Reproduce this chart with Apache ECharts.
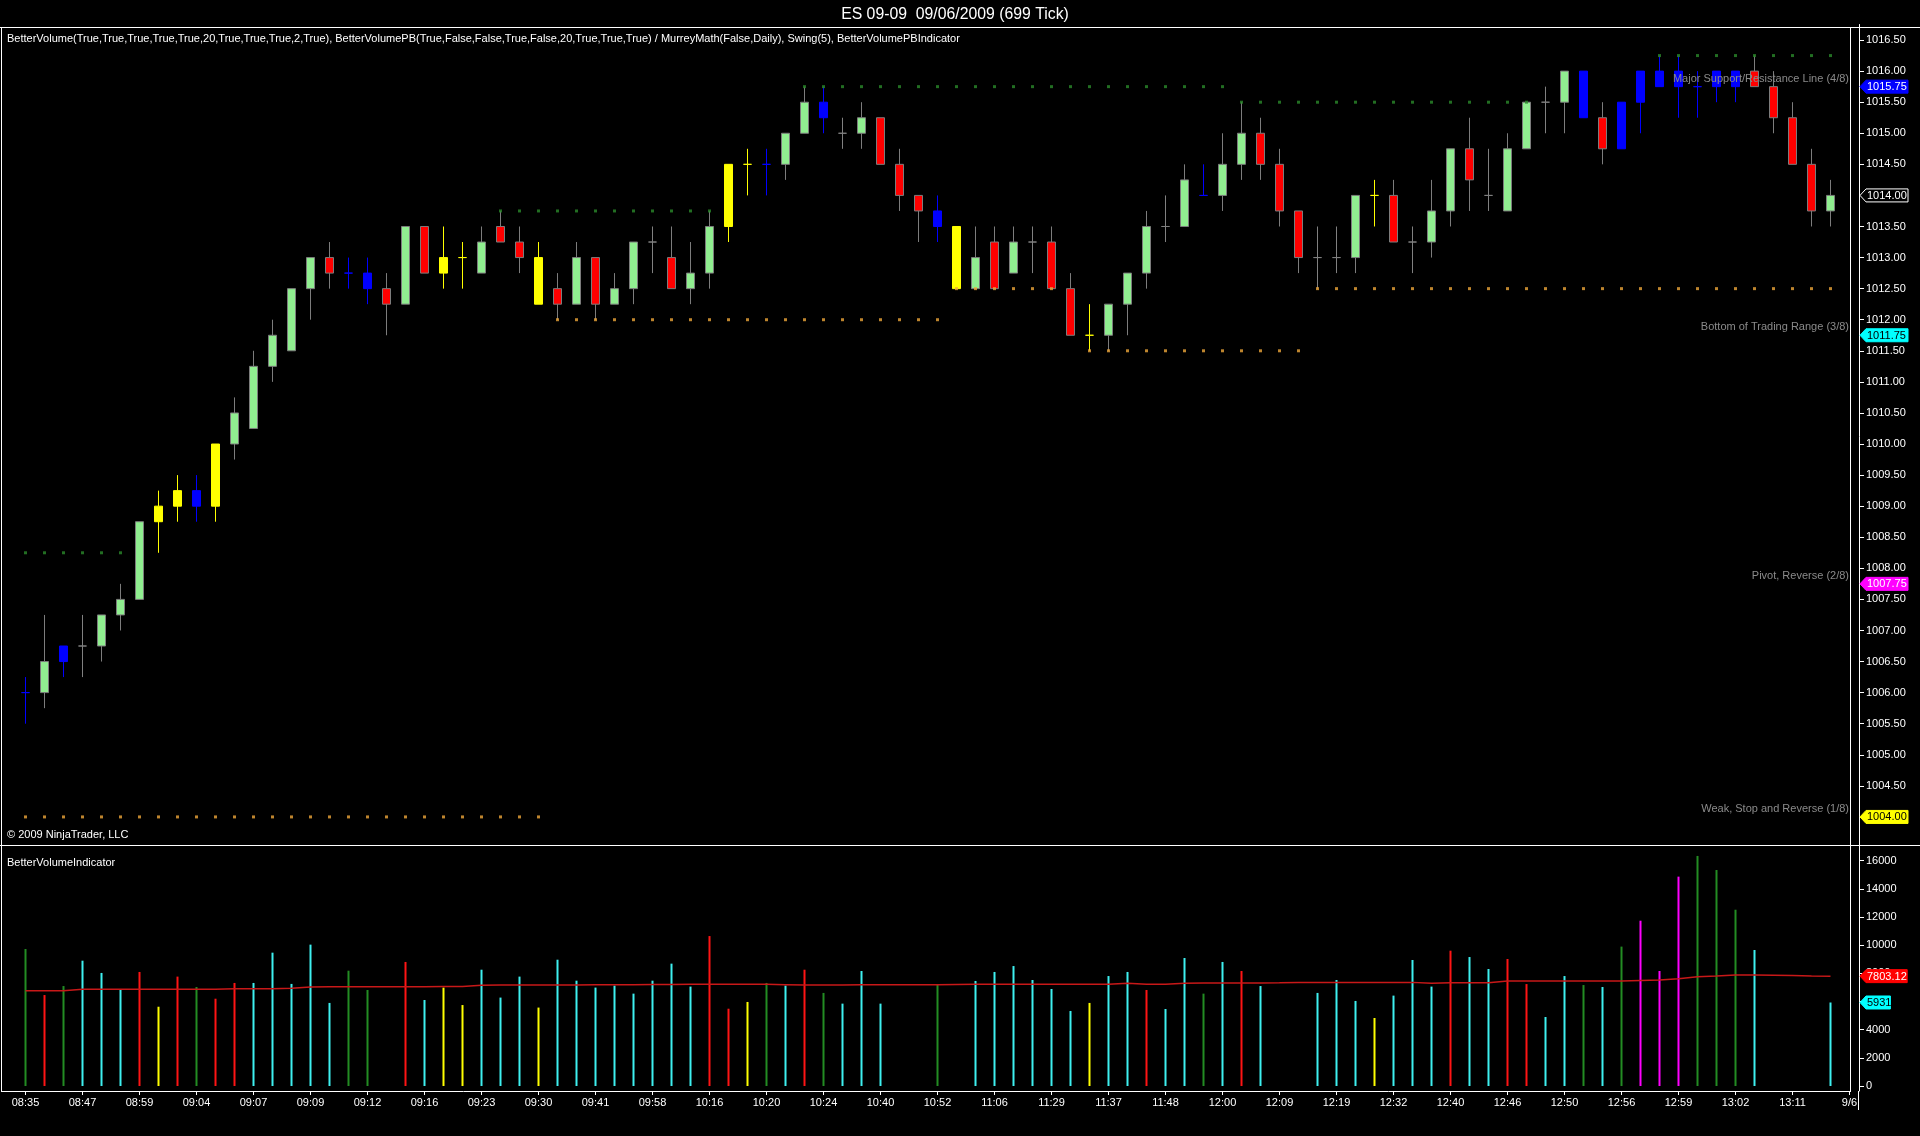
<!DOCTYPE html>
<html>
<head>
<meta charset="utf-8">
<style>
  html, body { margin: 0; padding: 0; background: #000; }
  #chart { width: 1920px; height: 1136px; }
</style>
<script src="https://cdn.jsdelivr.net/npm/echarts@6/dist/echarts.min.js"></script>
</head>
<body>
<div id="chart"></div>
<script>
// ---------------- DATA ----------------
const timeLabels = ['08:35','08:47','08:59','09:04','09:07','09:09','09:12','09:16','09:23','09:30','09:41','09:58',
  '10:16','10:20','10:24','10:40','10:52','11:06','11:29','11:37','11:48','12:00','12:09','12:19','12:32',
  '12:40','12:46','12:50','12:56','12:59','13:02','13:11','9/6'];

const opens = [
  1006.0, 1006.0, 1006.5, 1006.75, 1006.75, 1007.25, 1007.5, 1008.75, 1009.0, 1009.0,
  1009.0, 1010.0, 1010.25, 1011.25, 1011.5, 1012.5, 1013.0, 1012.75, 1012.75, 1012.5,
  1012.25, 1013.5, 1012.75, 1013.0, 1012.75, 1013.5, 1013.25, 1013.0, 1012.5, 1012.25,
  1013.0, 1012.25, 1012.5, 1013.25, 1013.0, 1012.5, 1012.75, 1013.5, 1014.5, 1014.5,
  1014.5, 1015.0, 1015.5, 1015.0, 1015.0, 1015.25, 1014.5, 1014.0, 1013.75, 1013.5,
  1012.5, 1013.25, 1012.75, 1013.25, 1013.25, 1012.5, 1011.75, 1011.75, 1012.25, 1012.75,
  1013.5, 1013.5, 1014.0, 1014.0, 1014.5, 1015.0, 1014.5, 1013.75, 1013.0, 1013.0,
  1013.0, 1014.0, 1014.0, 1013.25, 1013.25, 1013.75, 1014.75, 1014.0, 1013.75, 1014.75,
  1015.5, 1015.5, 1016.0, 1015.25, 1014.75, 1015.5, 1015.75, 1015.75, 1015.75, 1015.75,
  1015.75, 1016.0, 1015.75, 1015.25, 1014.5, 1013.75
];
const closes = [
  1006.0, 1006.5, 1006.75, 1006.75, 1007.25, 1007.5, 1008.75, 1009.0, 1009.25, 1009.25,
  1010.0, 1010.5, 1011.25, 1011.75, 1012.5, 1013.0, 1012.75, 1012.75, 1012.5, 1012.25,
  1013.5, 1012.75, 1013.0, 1013.0, 1013.25, 1013.25, 1013.0, 1012.25, 1012.25, 1013.0,
  1012.25, 1012.5, 1013.25, 1013.25, 1012.5, 1012.75, 1013.5, 1014.5, 1014.5, 1014.5,
  1015.0, 1015.5, 1015.25, 1015.0, 1015.25, 1014.5, 1014.0, 1013.75, 1013.5, 1012.5,
  1013.0, 1012.5, 1013.25, 1013.25, 1012.5, 1011.75, 1011.75, 1012.25, 1012.75, 1013.5,
  1013.5, 1014.25, 1014.0, 1014.5, 1015.0, 1014.5, 1013.75, 1013.0, 1013.0, 1013.0,
  1014.0, 1014.0, 1013.25, 1013.25, 1013.75, 1014.75, 1014.25, 1014.0, 1014.75, 1015.5,
  1015.5, 1016.0, 1015.25, 1014.75, 1015.5, 1016.0, 1016.0, 1016.0, 1015.75, 1016.0,
  1016.0, 1015.75, 1015.25, 1014.5, 1013.75, 1014.0
];
const lows = [
  1005.5, 1005.75, 1006.25, 1006.25, 1006.5, 1007.0, 1007.5, 1008.25, 1008.75, 1008.75,
  1008.75, 1009.75, 1010.25, 1011.0, 1011.5, 1012.0, 1012.5, 1012.5, 1012.25, 1011.75,
  1012.25, 1012.75, 1012.5, 1012.5, 1012.75, 1013.25, 1012.75, 1012.25, 1012.0, 1012.25,
  1012.0, 1012.25, 1012.25, 1012.75, 1012.5, 1012.25, 1012.5, 1013.25, 1014.0, 1014.0,
  1014.25, 1015.0, 1015.0, 1014.75, 1014.75, 1014.5, 1013.75, 1013.25, 1013.25, 1012.5,
  1012.5, 1012.5, 1012.75, 1012.75, 1012.5, 1011.75, 1011.5, 1011.5, 1011.75, 1012.5,
  1013.25, 1013.5, 1014.0, 1013.75, 1014.25, 1014.25, 1013.5, 1012.75, 1012.5, 1012.75,
  1012.75, 1013.5, 1013.25, 1012.75, 1013.0, 1013.5, 1013.75, 1013.75, 1013.75, 1014.75,
  1015.0, 1015.0, 1015.25, 1014.5, 1014.75, 1015.0, 1015.75, 1015.25, 1015.25, 1015.5,
  1015.5, 1015.75, 1015.0, 1014.5, 1013.5, 1013.5
];
const highs = [
  1006.25, 1007.25, 1006.75, 1007.25, 1007.25, 1007.75, 1008.75, 1009.25, 1009.5, 1009.5,
  1010.0, 1010.75, 1011.5, 1012.0, 1012.5, 1013.0, 1013.25, 1013.0, 1013.0, 1012.75,
  1013.5, 1013.5, 1013.5, 1013.25, 1013.5, 1013.75, 1013.5, 1013.25, 1012.75, 1013.25,
  1013.0, 1012.75, 1013.25, 1013.5, 1013.5, 1013.25, 1013.75, 1014.5, 1014.75, 1014.75,
  1015.0, 1015.75, 1015.75, 1015.25, 1015.5, 1015.25, 1014.75, 1014.0, 1014.0, 1013.5,
  1013.5, 1013.5, 1013.5, 1013.5, 1013.5, 1012.75, 1012.25, 1012.25, 1012.75, 1013.75,
  1014.0, 1014.5, 1014.5, 1015.0, 1015.5, 1015.25, 1014.75, 1013.75, 1013.5, 1013.5,
  1014.0, 1014.25, 1014.25, 1013.5, 1014.25, 1014.75, 1015.25, 1014.75, 1015.0, 1015.5,
  1015.75, 1016.0, 1016.0, 1015.5, 1015.5, 1016.0, 1016.25, 1016.25, 1016.0, 1016.0,
  1016.0, 1016.25, 1016.0, 1015.5, 1014.75, 1014.25
];
// candle colour class per bar: G up-green, R down-red, Y yellow, B blue, N neutral gray
const candleCodes = ('BGBNGGGYYB' + 'YGGGGGRBBR' + 'GRYYGRRYRG' + 'RGGNRGGYYB' + 'GGBNGRRRBY' +
                     'GRGNRRYGGG' + 'NGBGGRRRNN' + 'GYRNGGRNGG' + 'NGBRBBBBBB' + 'BRRRRG').split('');

const volumes = [
  9730, 6460, 7100, 8900, 8030, 6890, 8100, 5630, 7770, 7030,
  6200, 7320, 7320, 9470, 7250, 10040, 5900, 8190, 6820, null,
  8810, 6110, 6990, 5750, 8260, 6280, 7770, 5570, 8970, 7480,
  6990, 7130, 6560, 7480, 8690, 7060, 10650, 5490, 5970, 7320,
  7130, 8260, 6610, 5850, 8170, 5850, null, null, 7200, null,
  7460, 8100, 8520, 7530, 6890, 5330, 5900, 7810, 8100, 6820,
  5470, 9090, 6560, 8810, 8170, 7100, null, null, 6610, 7530,
  6040, 4830, 6420, 8950, 7060, 9610, 9160, 8310, 9020, 7240,
  4900, 7810, 7170, 7030, 9900, 11740, 8170, 14870, 16340, 15340,
  12520, 9660, null, null, null, 5931
];
// volume colour class: G green, R red, C cyan, Y yellow, M magenta, - not visible
const volumeCodes = ('GRGCCCRYRG' + 'RRCCCCCGG-' + 'RCYYCCCYCC' + 'CCCCCCRRYG' + 'CRGCCC--G-' +
                     'CCCCCCYCCR' + 'CCGCRC--CC' + 'CYCCCRCCRR' + 'CCGCGMMMGG' + 'GC---C').split('');
const volumeAverage = [
  6770, 6770, 6770, 6865, 6865, 6865, 6865, 6865, 6870, 6870,
  6880, 6900, 6900, 6910, 6940, 7030, 7055, 7055, 7055, 7055,
  7055, 7055, 7060, 7060, 7150, 7170, 7170, 7175, 7175, 7180,
  7190, 7200, 7200, 7210, 7215, 7220, 7220, 7220, 7220, 7220,
  7200, 7175, 7175, 7180, 7190, 7200, 7200, 7200, 7200, 7210,
  7220, 7220, 7220, 7220, 7220, 7220, 7220, 7220, 7290, 7220,
  7220, 7290, 7315, 7315, 7315, 7320, 7330, 7345, 7360, 7360,
  7360, 7360, 7360, 7360, 7290, 7340, 7340, 7340, 7460, 7460,
  7460, 7460, 7460, 7460, 7460, 7500, 7530, 7620, 7765, 7810,
  7880, 7885, 7870, 7850, 7820, 7803.12
];

// swing lines: [firstBar, lastBar, price]
const swingHighs = [[0, 5, 1008.25], [25, 36, 1013.75], [41, 63, 1015.75], [64, 79, 1015.5], [86, 95, 1016.25]];
const swingLows  = [[0, 27, 1004.0], [28, 48, 1012.0], [49, 54, 1012.5], [56, 67, 1011.5], [68, 95, 1012.5]];

// Murrey Math levels
const murreyLevels = [1015.75, 1011.75, 1007.75, 1004.00];
const murreyNames = ['Major Support/Resistance Line (4/8)', 'Bottom of Trading Range (3/8)',
                     'Pivot, Reverse (2/8)', 'Weak, Stop and Reverse (1/8)'];
const murreyTagColors = [['#0000ff', '#ffffff'], ['#00ffff', '#000000'], ['#ff00ff', '#ffffff'], ['#ffff00', '#000000']];

const priceTicks = [1004.0, 1004.5, 1005.0, 1005.5, 1006.0, 1006.5, 1007.0, 1007.5, 1008.0, 1008.5, 1009.0,
  1009.5, 1010.0, 1010.5, 1011.0, 1011.5, 1012.0, 1012.5, 1013.0, 1013.5, 1014.0, 1014.5, 1015.0, 1015.5,
  1016.0, 1016.5];
const volumeTicks = [0, 2000, 4000, 6000, 8000, 10000, 12000, 14000, 16000];

// ---------------- STYLE ----------------
const FONT = 'Arial, "Liberation Sans", sans-serif';
const candleStyles = {
  G: { color: '#90ee90', color0: '#90ee90', borderColor: '#7c7c7c', borderColor0: '#7c7c7c' },
  R: { color: '#ff0000', color0: '#ff0000', borderColor: '#7c7c7c', borderColor0: '#7c7c7c' },
  Y: { color: '#ffff00', color0: '#ffff00', borderColor: '#ffff00', borderColor0: '#ffff00' },
  B: { color: '#0000ff', color0: '#0000ff', borderColor: '#0000ff', borderColor0: '#0000ff' },
  N: { color: '#808080', color0: '#808080', borderColor: '#808080', borderColor0: '#808080' }
};
const volumeStyles = { G: '#238c23', R: '#ff1414', C: '#3ef0f0', Y: '#ffff00', M: '#ff00ff' };

const nCat = timeLabels.length * 3 - 2;
const categories = Array.from({ length: nCat }, (_, i) => String(i));

const candleData = opens.map((o, i) => ({
  value: [o, closes[i], lows[i], highs[i]],
  itemStyle: candleStyles[candleCodes[i]]
}));
const volumeData = volumes.map((v, i) => ({
  value: v,
  itemStyle: { color: volumeStyles[volumeCodes[i]] || 'rgba(0,0,0,0)' }
}));
function expandSwing(segs) {
  const pts = [];
  segs.forEach(([a, b, p]) => { for (let i = a; i <= b; i++) pts.push([i, p]); });
  return pts;
}

function tagShape(x0, y, w, fill, stroke, text, textColor) {
  return {
    type: 'group',
    children: [
      { type: 'polygon', shape: { points: [[x0 + 1, y], [x0 + 7, y - 6.5], [x0 + w, y - 6.5], [x0 + w, y + 6.5], [x0 + 7, y + 6.5]] },
        style: { fill: fill, stroke: stroke, lineWidth: 1 } },
      { type: 'text', style: { x: x0 + 8, y: y + 0.5, text: text, fill: textColor, font: '11px ' + FONT,
        align: 'left', verticalAlign: 'middle' } }
    ]
  };
}

const lastClose = closes[closes.length - 1];
const priceTagData = murreyLevels.map((lv, i) => [0, lv, i]).concat([[0, lastClose, -1]]);
const volumeTagData = [[0, volumeAverage[volumeAverage.length - 1], 0], [0, volumes[volumes.length - 1], 1]];

const chart = echarts.init(document.getElementById('chart'), null, { renderer: 'canvas' });
const xInterval = (idx) => idx % 3 === 0;

chart.setOption({
  backgroundColor: '#000000',
  animation: false,
  grid: [
    { left: 16, width: 1843, top: 24.5, height: 823.5 },
    { left: 16, width: 1843, top: 845, height: 246 }
  ],
  xAxis: [
    { type: 'category', gridIndex: 0, data: categories, show: false, boundaryGap: true },
    { type: 'category', gridIndex: 1, data: categories, boundaryGap: true, position: 'bottom',
      axisLine: { show: false, onZero: false },
      axisTick: { show: true, alignWithLabel: true, interval: xInterval, length: 4, lineStyle: { color: '#ffffff' } },
      axisLabel: { interval: xInterval, color: '#ffffff', fontSize: 11, fontFamily: FONT, margin: 6,
        formatter: (v, idx) => (idx % 3 === 0 ? timeLabels[idx / 3] : '') },
      splitLine: { show: false } }
  ],
  yAxis: [
    { type: 'value', gridIndex: 0, position: 'right', min: 1003.5, max: 1016.75, scale: true,
      axisLine: { show: true, lineStyle: { color: '#ffffff' } },
      axisTick: { show: true, length: 5, customValues: priceTicks, lineStyle: { color: '#ffffff' } },
      axisLabel: { color: '#ffffff', fontSize: 11, fontFamily: FONT, margin: 7, customValues: priceTicks,
        formatter: (v) => Number(v).toFixed(2) },
      splitLine: { show: false } },
    { type: 'value', gridIndex: 1, position: 'right', min: -355, max: 17117,
      axisLine: { show: true, lineStyle: { color: '#ffffff' } },
      axisTick: { show: true, length: 5, customValues: volumeTicks, lineStyle: { color: '#ffffff' } },
      axisLabel: { color: '#ffffff', fontSize: 11, fontFamily: FONT, margin: 7, customValues: volumeTicks,
        formatter: (v) => String(Math.round(v)) },
      splitLine: { show: false } }
  ],
  series: [
    { type: 'candlestick', xAxisIndex: 0, yAxisIndex: 0, data: candleData, barWidth: 8,
      itemStyle: { borderWidth: 1 } },
    { type: 'scatter', xAxisIndex: 0, yAxisIndex: 0, data: expandSwing(swingHighs), symbol: 'rect',
      symbolSize: [3, 3], itemStyle: { color: '#2a8a2a' }, silent: true },
    { type: 'scatter', xAxisIndex: 0, yAxisIndex: 0, data: expandSwing(swingLows), symbol: 'rect',
      symbolSize: [3, 3], itemStyle: { color: '#eea63a' }, silent: true },
    { type: 'custom', xAxisIndex: 0, yAxisIndex: 0, data: priceTagData, clip: false, silent: true, z: 10,
      renderItem: function (params, api) {
        const cs = params.coordSys;
        const y = api.coord([0, api.value(1)])[1];
        const idx = api.value(2);
        const right = cs.x + cs.width;
        const text = api.value(1).toFixed(2);
        if (idx < 0) {
          return tagShape(right, y, 49, '#000000', '#ffffff', text, '#ffffff');
        }
        const tag = tagShape(right, y, 49, murreyTagColors[idx][0], murreyTagColors[idx][0], text, murreyTagColors[idx][1]);
        tag.children.push({ type: 'text', style: { x: right - 10, y: y - 8, text: murreyNames[idx], fill: '#8a8a8a',
          font: '11px ' + FONT, align: 'right', verticalAlign: 'middle' } });
        return tag;
      } },
    { type: 'bar', xAxisIndex: 1, yAxisIndex: 1, data: volumeData, barWidth: 2 },
    { type: 'line', xAxisIndex: 1, yAxisIndex: 1, data: volumeAverage, symbol: 'none',
      lineStyle: { color: '#c81818', width: 1.5 }, z: 5 },
    { type: 'custom', xAxisIndex: 1, yAxisIndex: 1, data: volumeTagData, clip: false, silent: true, z: 10,
      renderItem: function (params, api) {
        const cs = params.coordSys;
        const v = api.value(1);
        const y = api.coord([0, v])[1];
        const idx = api.value(2);
        const right = cs.x + cs.width;
        const text = idx === 0 ? v.toFixed(2) : String(v);
        const w = 9 + text.length * 5.6;
        return idx === 0 ? tagShape(right, y, w, '#ff0000', '#ff0000', text, '#ffffff')
                         : tagShape(right, y, w, '#00ffff', '#00ffff', text, '#000000');
      } }
  ],
  graphic: [
    { type: 'text', style: { x: 955, y: 14.5, text: 'ES 09-09  09/06/2009 (699 Tick)', fill: '#ffffff',
      font: '15.8px ' + FONT, align: 'center', verticalAlign: 'middle' } },
    { type: 'line', shape: { x1: 0, y1: 27.5, x2: 1920, y2: 27.5 }, style: { stroke: '#ffffff', lineWidth: 1 } },
    { type: 'text', style: { x: 7, y: 39, text: 'BetterVolume(True,True,True,True,True,20,True,True,True,2,True), BetterVolumePB(True,False,False,True,False,20,True,True,True) / MurreyMath(False,Daily), Swing(5), BetterVolumePBIndicator',
      fill: '#ffffff', font: '11px ' + FONT, align: 'left', verticalAlign: 'middle' } },
    { type: 'text', style: { x: 7, y: 835, text: '© 2009 NinjaTrader, LLC', fill: '#ffffff',
      font: '11px ' + FONT, align: 'left', verticalAlign: 'middle' } },
    { type: 'line', shape: { x1: 0, y1: 845.5, x2: 1920, y2: 845.5 }, style: { stroke: '#ffffff', lineWidth: 1 } },
    { type: 'text', style: { x: 7, y: 863, text: 'BetterVolumeIndicator', fill: '#ffffff',
      font: '11px ' + FONT, align: 'left', verticalAlign: 'middle' } },
    { type: 'line', shape: { x1: 1.5, y1: 27, x2: 1.5, y2: 1091 }, style: { stroke: '#ffffff', lineWidth: 1 } },
    { type: 'line', shape: { x1: 1850.5, y1: 27, x2: 1850.5, y2: 1091 }, style: { stroke: '#ffffff', lineWidth: 1 } },
    { type: 'line', shape: { x1: 1, y1: 1091.5, x2: 1851, y2: 1091.5 }, style: { stroke: '#ffffff', lineWidth: 1 } },
    { type: 'line', shape: { x1: 1858.5, y1: 1091, x2: 1858.5, y2: 1110 }, style: { stroke: '#ffffff', lineWidth: 1 } }
  ]
});
</script>
</body>
</html>
